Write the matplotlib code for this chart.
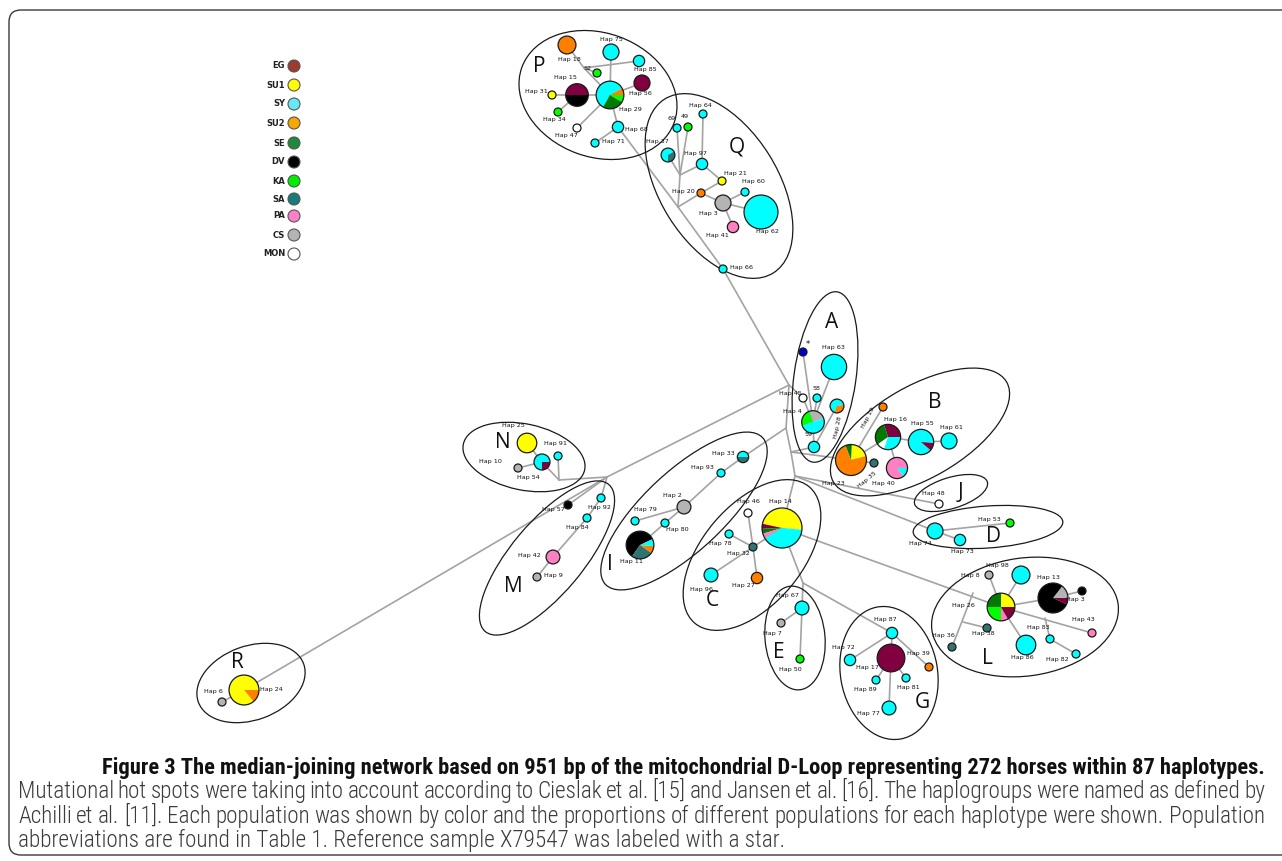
import numpy as np
import matplotlib
matplotlib.use("Agg")
import matplotlib.pyplot as plt
from matplotlib.patches import Wedge, Circle, Ellipse, FancyBboxPatch
from matplotlib import font_manager

# ---------------------------------------------------------------- data
POPS = ["EG", "SU1", "SY", "SU2", "SE", "DV", "KA", "SA", "PA", "CS", "MON"]
LEGEND_COLORS = ["#9e3a2e", "#ffff00", "#66e8f5", "#f5a800", "#1f8a3c", "#000000",
                 "#00ee00", "#1a7b7b", "#ff80c8", "#b4b4b4", "#ffffff"]
PIE_COLORS = {"EG": "#800040", "SU1": "#ffff00", "SY": "#00ffff", "SU2": "#ff8000",
              "SE": "#007a00", "DV": "#000000", "KA": "#00ff00", "SA": "#2f7373",
              "PA": "#ff80c0", "CS": "#b4b4b4", "MON": "#ffffff", "REF": "#0000cc"}

# horses per population in each haplotype (drawing order of slices)
HAPLOGROUP_P = {
    "Hap 18": [("SU2", 5)], "Hap 75": [("SY", 4)], "Hap 85": [("SY", 2)], "52": [("KA", 1)],
    "Hap 56": [("EG", 4)], "Hap 15": [("EG", 4), ("DV", 4)],
    "Hap 29": [("SU2", 1), ("SY", 7), ("SE", 3), ("KA", 1)],
    "Hap 31": [("SU1", 1)], "Hap 34": [("KA", 1)], "Hap 47": [("MON", 1)],
    "Hap 68": [("SY", 2)], "Hap 71": [("SY", 1)],
}
HAPLOGROUP_Q = {
    "Hap 64": [("SY", 1)], "69": [("SY", 1)], "49": [("KA", 1)],
    "Hap 37": [("SY", 2), ("SA", 1)], "Hap 97": [("SY", 2)], "Hap 21": [("SU1", 1)],
    "Hap 60": [("SY", 1)], "Hap 20": [("SU2", 1)], "Hap 3#Q": [("CS", 4)],
    "Hap 62": [("SY", 18)], "Hap 41": [("PA", 2)], "Hap 66": [("SY", 1)],
}
HAPLOGROUP_A = {
    "*": [("REF", 1)], "Hap 63": [("SY", 10)], "58": [("SY", 1)], "Hap 45": [("MON", 1)],
    "Hap 4": [("CS", 2), ("KA", 2), ("SY", 4)], "Hap 28": [("SY", 2), ("SU2", 1)],
    "59": [("SY", 2)],
}
HAPLOGROUP_B = {
    "Hap 19": [("SU2", 1)], "Hap 16": [("EG", 3), ("SE", 3), ("MON", 1), ("SY", 3)],
    "Hap 55": [("SY", 9), ("EG", 1)], "Hap 61": [("SY", 4)],
    "Hap 23": [("SU1", 3), ("SE", 1), ("SU2", 11)], "Hap 35": [("SA", 1)],
    "Hap 40": [("PA", 6), ("SY", 1)],
}
HAPLOGROUP_N = {"Hap 25": [("SU1", 6)], "Hap 91": [("SY", 1)],
                "Hap 54": [("SY", 3), ("EG", 1)], "Hap 10": [("CS", 1)]}
HAPLOGROUP_M = {"Hap 57": [("DV", 1)], "Hap 92": [("SY", 1)], "Hap 84": [("SY", 1)],
                "Hap 42": [("PA", 3)], "Hap 9": [("CS", 1)]}
HAPLOGROUP_I = {"Hap 33": [("SY", 1), ("SA", 1)], "Hap 93": [("SY", 1)], "Hap 2": [("CS", 3)],
                "Hap 79": [("SY", 1)], "Hap 80": [("SY", 1)],
                "Hap 11": [("DV", 7), ("SA", 3), ("SU2", 1), ("SY", 1)]}
HAPLOGROUP_C = {"Hap 46": [("MON", 1)],
                "Hap 14": [("SU1", 12), ("EG", 1), ("SE", 1), ("PA", 1), ("SY", 10)],
                "Hap 78": [("SY", 1)], "Hap 32": [("SA", 1)], "Hap 96": [("SY", 3)],
                "Hap 27": [("SU2", 2)]}
HAPLOGROUP_J = {"Hap 48": [("MON", 1)]}
HAPLOGROUP_D = {"Hap 74": [("SY", 4)], "Hap 73": [("SY", 2)], "Hap 53": [("KA", 1)]}
HAPLOGROUP_L = {"Hap 8": [("CS", 1)], "Hap 98": [("SY", 5)],
                "Hap 13": [("EG", 1), ("CS", 2), ("DV", 11)], "Hap 3#L": [("DV", 1)],
                "Hap 26": [("SU1", 3), ("SE", 3), ("KA", 3), ("PA", 1), ("EG", 2)],
                "Hap 38": [("SA", 1)], "Hap 36": [("SA", 1)], "Hap 83": [("SY", 1)],
                "Hap 86": [("SY", 6)], "Hap 82": [("SY", 1)], "Hap 43": [("PA", 1)]}
HAPLOGROUP_E = {"Hap 67": [("SY", 3)], "Hap 7": [("CS", 1)], "Hap 50": [("KA", 1)]}
HAPLOGROUP_G = {"Hap 87": [("SY", 2)], "Hap 72": [("SY", 2)], "Hap 17": [("EG", 12)],
                "Hap 39": [("SU2", 1)], "Hap 89": [("SY", 1)], "Hap 81": [("SY", 1)],
                "Hap 77": [("SY", 3)]}
HAPLOGROUP_R = {"Hap 24": [("SU2", 2), ("SU1", 12)], "Hap 6": [("CS", 1)]}

GROUPS = [HAPLOGROUP_P, HAPLOGROUP_Q, HAPLOGROUP_A, HAPLOGROUP_B, HAPLOGROUP_N,
          HAPLOGROUP_M, HAPLOGROUP_I, HAPLOGROUP_C, HAPLOGROUP_J, HAPLOGROUP_D,
          HAPLOGROUP_L, HAPLOGROUP_E, HAPLOGROUP_G, HAPLOGROUP_R]

TITLE = ("Figure 3 The median-joining network based on 951 bp of the mitochondrial "
         "D-Loop representing 272 horses within 87 haplotypes.")
BODY = ["Mutational hot spots were taking into account according to Cieslak et al. [15] and "
        "Jansen et al. [16]. The haplogroups were named as defined by",
        "Achilli et al. [11]. Each population was shown by color and the proportions of "
        "different populations for each haplotype were shown. Population",
        "abbreviations are found in Table 1. Reference sample X79547 was labeled with a star."]

# ---------------------------------------------------------------- layout (pixel space)
POS = {
    "Hap 18": (567, 45), "Hap 75": (611, 52), "Hap 85": (639, 61), "52": (597, 73),
    "Hap 56": (642, 83), "Hap 15": (577, 95), "Hap 29": (610, 95), "Hap 31": (552, 95),
    "Hap 34": (558, 112), "Hap 47": (577, 128), "Hap 68": (618, 127), "Hap 71": (595, 143),
    "Hap 64": (703, 114), "69": (677, 128), "49": (688, 127), "Hap 37": (668, 155),
    "Hap 97": (702, 164), "Hap 21": (722, 181), "Hap 60": (745, 192), "Hap 20": (701, 193),
    "Hap 3#Q": (723, 203), "Hap 62": (761, 212), "Hap 41": (733, 227), "Hap 66": (723, 269),
    "*": (803, 352), "Hap 63": (834, 367), "58": (817, 398), "Hap 45": (803, 398),
    "Hap 4": (813, 422), "Hap 28": (837, 406), "59": (814, 447),
    "Hap 19": (883, 407), "Hap 16": (888, 437), "Hap 55": (921, 442), "Hap 61": (949, 441),
    "Hap 23": (851, 460), "Hap 35": (874, 463), "Hap 40": (897, 468),
    "Hap 25": (527, 443), "Hap 91": (558, 456), "Hap 54": (542, 462), "Hap 10": (518, 468),
    "Hap 57": (568, 505), "Hap 92": (601, 498), "Hap 84": (587, 518), "Hap 42": (553, 557),
    "Hap 9": (537, 577),
    "Hap 33": (743, 457), "Hap 93": (721, 473), "Hap 2": (684, 507), "Hap 79": (635, 521),
    "Hap 80": (665, 523), "Hap 11": (640, 545),
    "Hap 46": (748, 513), "Hap 14": (782, 528), "Hap 78": (729, 534), "Hap 32": (753, 547),
    "Hap 96": (711, 575), "Hap 27": (757, 578),
    "Hap 48": (939, 504), "Hap 74": (935, 531), "Hap 73": (960, 540), "Hap 53": (1010, 523),
    "Hap 8": (989, 575), "Hap 98": (1021, 575), "Hap 13": (1053, 598), "Hap 3#L": (1082, 591),
    "Hap 26": (1001, 607), "Hap 38": (987, 628), "Hap 36": (952, 647), "Hap 83": (1050, 639),
    "Hap 86": (1026, 645), "Hap 82": (1076, 654), "Hap 43": (1092, 633),
    "Hap 67": (802, 608), "Hap 7": (781, 623), "Hap 50": (800, 659),
    "Hap 87": (892, 633), "Hap 72": (850, 660), "Hap 17": (891, 658), "Hap 39": (929, 667),
    "Hap 89": (876, 680), "Hap 81": (906, 678), "Hap 77": (889, 708),
    "Hap 24": (244, 690), "Hap 6": (222, 702),
}
JUNCTIONS = {
    "jP": (584, 68), "jQa": (678, 207), "jQb": (680, 175),
    "H1": (789, 385), "H2": (786, 428), "H3": (791, 452), "H4": (795, 476),
    "jL": (607, 477), "jN": (559, 480), "jE": (803, 583),
    "jL1": (973, 593), "jL2": (963, 622), "jL3": (1045, 618),
}
# slice start angle (degrees, counter-clockwise from east)
START = {"Hap 29": 0, "Hap 37": 30, "Hap 4": 20, "Hap 28": 10, "Hap 16": 0, "Hap 55": -5,
         "Hap 23": 15, "Hap 40": 0, "Hap 54": 0, "Hap 33": 0, "Hap 11": 25, "Hap 14": -5,
         "Hap 13": -25, "Hap 26": 0, "Hap 24": -51, "Hap 15": 0}

EDGES = [
    ("Hap 18", "jP"), ("jP", "Hap 29"), ("52", "jP"), ("Hap 85", "jP"), ("Hap 75", "Hap 29"),
    ("Hap 56", "Hap 29"), ("Hap 15", "Hap 29"), ("Hap 31", "Hap 15"), ("Hap 34", "Hap 15"),
    ("Hap 47", "Hap 29"), ("Hap 29", "Hap 68"), ("Hap 68", "Hap 71"),
    ("Hap 68", "jQa"), ("jQa", "Hap 66"), ("Hap 66", "H1"), ("jQa", "jQb"),
    ("69", "jQb"), ("49", "jQb"), ("Hap 37", "jQb"), ("jQb", "Hap 97"), ("Hap 64", "Hap 97"),
    ("Hap 97", "Hap 21"), ("jQa", "Hap 20"), ("Hap 20", "Hap 21"), ("Hap 20", "Hap 3#Q"),
    ("Hap 3#Q", "Hap 60"), ("Hap 3#Q", "Hap 62"), ("Hap 3#Q", "Hap 41"),
    ("jL", "H1"), ("jL", "Hap 24"), ("Hap 6", "Hap 24"), ("jN", "jL"), ("Hap 54", "jN"),
    ("Hap 91", "jN"), ("Hap 25", "Hap 54"), ("Hap 10", "Hap 54"), ("Hap 57", "jL"),
    ("Hap 92", "jL"), ("Hap 84", "Hap 92"), ("Hap 42", "Hap 84"), ("Hap 9", "Hap 42"),
    ("H1", "Hap 45"), ("Hap 45", "Hap 4"), ("*", "Hap 4"), ("58", "Hap 4"),
    ("Hap 63", "Hap 4"), ("Hap 4", "59"), ("Hap 28", "59"),
    ("H1", "H2"), ("H2", "H3"), ("H3", "H4"), ("H2", "Hap 33"), ("H3", "59"), ("H3", "Hap 23"),
    ("Hap 19", "Hap 23"), ("Hap 23", "Hap 16"), ("Hap 16", "Hap 55"), ("Hap 55", "Hap 61"),
    ("Hap 16", "Hap 40"), ("Hap 23", "Hap 35"),
    ("Hap 33", "Hap 93"), ("Hap 93", "Hap 2"), ("Hap 2", "Hap 79"), ("Hap 2", "Hap 80"),
    ("Hap 80", "Hap 11"),
    ("H4", "Hap 14"), ("Hap 14", "Hap 32"), ("Hap 32", "Hap 78"), ("Hap 46", "Hap 32"),
    ("Hap 32", "Hap 96"), ("Hap 32", "Hap 27"),
    ("H4", "Hap 48"), ("H4", "Hap 74"), ("Hap 74", "Hap 53"), ("Hap 74", "Hap 73"),
    ("Hap 14", "Hap 26"), ("Hap 26", "Hap 8"), ("Hap 26", "Hap 98"), ("Hap 26", "Hap 13"),
    ("Hap 13", "Hap 3#L"), ("Hap 26", "Hap 86"), ("Hap 26", "Hap 43"), ("jL3", "Hap 83"),
    ("Hap 83", "Hap 82"), ("jL1", "Hap 36"), ("jL2", "Hap 38"),
    ("Hap 14", "jE"), ("jE", "Hap 67"), ("Hap 67", "Hap 7"), ("Hap 67", "Hap 50"),
    ("jE", "Hap 87"), ("Hap 87", "Hap 72"), ("Hap 87", "Hap 39"), ("Hap 87", "Hap 17"),
    ("Hap 17", "Hap 77"), ("Hap 17", "Hap 89"), ("Hap 17", "Hap 81"),
]

# label centre positions (pixels); rotation where the label follows a link
LABELS = {
    "Hap 75": (611, 39), "Hap 18": (569, 60), "52": (587, 69), "Hap 85": (645, 69),
    "Hap 15": (565, 77), "Hap 56": (640, 94), "Hap 31": (536, 91), "Hap 29": (630, 110),
    "Hap 34": (554, 120), "Hap 47": (566, 136), "Hap 68": (636, 129), "Hap 71": (613, 142),
    "Hap 64": (700, 106), "69": (672, 118), "49": (685, 117), "Hap 37": (657, 141),
    "Hap 97": (695, 153), "Hap 21": (735, 173), "Hap 60": (753, 182), "Hap 20": (683, 192),
    "Hap 3#Q": (708, 213), "Hap 62": (767, 232), "Hap 41": (717, 235), "Hap 66": (742, 267),
    "*": (808, 344), "Hap 63": (833, 347), "58": (816, 388), "Hap 45": (790, 393),
    "Hap 4": (792, 412), "Hap 28": (838, 427), "59": (809, 435),
    "Hap 19": (868, 418), "Hap 16": (895, 419), "Hap 55": (922, 424), "Hap 61": (952, 427),
    "Hap 23": (833, 483), "Hap 35": (867, 480), "Hap 40": (883, 484),
    "Hap 25": (513, 425), "Hap 91": (555, 443), "Hap 10": (490, 462), "Hap 54": (528, 478),
    "Hap 57": (553, 509), "Hap 92": (599, 507), "Hap 84": (577, 527), "Hap 42": (529, 555),
    "Hap 9": (553, 576),
    "Hap 33": (723, 453), "Hap 93": (702, 467), "Hap 2": (672, 496), "Hap 79": (645, 510),
    "Hap 80": (677, 530), "Hap 11": (632, 562),
    "Hap 46": (748, 502), "Hap 14": (780, 502), "Hap 78": (720, 543), "Hap 32": (738, 553),
    "Hap 96": (702, 589), "Hap 27": (743, 586),
    "Hap 48": (933, 494), "Hap 53": (989, 519), "Hap 74": (920, 544), "Hap 73": (962, 551),
    "Hap 8": (970, 575), "Hap 98": (997, 566), "Hap 13": (1048, 577), "Hap 3#L": (1075, 600),
    "Hap 26": (963, 606), "Hap 38": (983, 633), "Hap 36": (943, 635), "Hap 83": (1038, 628),
    "Hap 43": (1083, 619), "Hap 86": (1022, 658), "Hap 82": (1057, 659),
    "Hap 67": (787, 595), "Hap 7": (772, 633), "Hap 50": (790, 669),
    "Hap 87": (885, 619), "Hap 72": (843, 648), "Hap 17": (867, 667), "Hap 39": (918, 653),
    "Hap 89": (865, 689), "Hap 81": (908, 687), "Hap 77": (868, 713),
    "Hap 6": (213, 692), "Hap 24": (271, 690),
}
LABEL_ROT = {"Hap 28": 78, "Hap 19": 62, "Hap 35": 40}

# haplogroup outlines: centre, major, minor, screen angle of major axis
OUTLINES = {
    "P": ((598, 95), 162, 124, -20), "Q": ((719, 186), 205, 118, -58),
    "A": ((825, 377), 172, 62, 82), "B": ((920, 432), 200, 92, 30),
    "N": ((524, 457), 124, 66, -12), "M": ((547, 558), 192, 72, 50),
    "I": ((684, 511), 215, 80, 43), "C": ((752, 555), 178, 100, 50),
    "J": ((951, 493), 76, 31, 17), "D": ((988, 527), 150, 42, 4),
    "L": ((1025, 617), 188, 118, 8), "E": ((795, 638), 104, 60, 95),
    "G": ((889, 673), 134, 97, 100), "R": ((251, 683), 112, 74, 20),
}
GROUP_LETTER = {"P": (539, 66), "Q": (737, 147), "A": (832, 322), "B": (935, 403),
                "N": (503, 443), "M": (513, 587), "I": (610, 565), "C": (712, 601),
                "J": (960, 492), "D": (993, 537), "L": (987, 658), "E": (779, 653),
                "G": (922, 703), "R": (237, 662)}


def pick_font(cands, **kw):
    for f in cands:
        try:
            font_manager.findfont(font_manager.FontProperties(family=f, **kw),
                                  fallback_to_default=False)
            return f
        except Exception:
            continue
    return "DejaVu Sans"


NARROW = pick_font(["Liberation Sans Narrow", "Roboto Condensed", "Open Sans Condensed"])
LETTER_FONT = pick_font(["Open Sans", "Noto Sans"])

W, H = 1282, 861
fig = plt.figure(figsize=(W / 100, H / 100), dpi=100)
ax = fig.add_axes([0, 0, 1, 1])
ax.set_xlim(0, W)
ax.set_ylim(H, 0)
ax.axis("off")

# outer frame
ax.add_patch(FancyBboxPatch((9, 10), 1320, 845, boxstyle="round,pad=0,rounding_size=12",
                            fc="none", ec="#3a3a3a", lw=1.0, zorder=0))

allpos = dict(POS)
allpos.update(JUNCTIONS)

for a, b in EDGES:
    (x1, y1), (x2, y2) = allpos[a], allpos[b]
    ax.plot([x1, x2], [y1, y2], color="#a3a3a3", lw=1.2, zorder=1, solid_capstyle="round")

for g, (c, major, minor, ang) in OUTLINES.items():
    ax.add_patch(Ellipse(c, major, minor, angle=-ang, fc="none", ec="#1a1a1a", lw=0.9, zorder=2))
    ax.text(*GROUP_LETTER[g], g, fontsize=15, family=LETTER_FONT, ha="center", va="center",
            color="#111111", zorder=5)


def radius(n):
    return 4.0 * np.sqrt(n)


for grp in GROUPS:
    for hap, comp in grp.items():
        x, y = POS[hap]
        n = sum(c for _, c in comp)
        r = radius(n)
        if len(comp) == 1:
            ax.add_patch(Circle((x, y), r, fc=PIE_COLORS[comp[0][0]], ec="#1a1a1a",
                                lw=0.9, zorder=3))
        else:
            a0 = START.get(hap, 0)
            for pop, cnt in comp:
                a1 = a0 + 360.0 * cnt / n
                # y axis points down: screen counter-clockwise = negative data angle
                ax.add_patch(Wedge((x, y), r, -a1, -a0, fc=PIE_COLORS[pop], ec="none",
                                   zorder=3))
                a0 = a1
            ax.add_patch(Circle((x, y), r, fc="none", ec="#1a1a1a", lw=0.9, zorder=3.5))
        lx, ly = LABELS[hap]
        txt = hap.split("#")[0]
        ax.text(lx, ly, txt, fontsize=4.6 if txt != "*" else 6, ha="center", va="center",
                rotation=LABEL_ROT.get(hap, 0), color="#111111", zorder=4)

# legend
LEG_Y = [66, 85, 104, 123, 143, 162, 181, 199, 216, 235, 254]
for pop, col, y in zip(POPS, LEGEND_COLORS, LEG_Y):
    ax.add_patch(Circle((294, y), 6, fc=col, ec="#555555", lw=0.8, zorder=3))
    ax.text(285, y, pop, fontsize=6, fontweight="bold", ha="right", va="center",
            color="#222222")

# caption
renderer = fig.canvas.get_renderer()


def justified(line, y, x0, x1, **kw):
    words = line.split(" ")
    ts = [ax.text(0, y, w, ha="left", va="baseline", **kw) for w in words]
    widths = [t.get_window_extent(renderer).width for t in ts]
    gap = (x1 - x0 - sum(widths)) / (len(words) - 1)
    x = x0
    for t, w in zip(ts, widths):
        t.set_x(x)
        x += w + gap


CAP_KW = dict(family=NARROW, fontsize=16.7, color="#3c3c3c", fontweight="light")
ax.text(1265, 774, TITLE, family=NARROW, fontsize=16.2, fontweight="bold", ha="right",
        va="baseline", color="#111111")
justified(BODY[0], 798, 18, 1265, **CAP_KW)
justified(BODY[1], 823, 18, 1265, **CAP_KW)
ax.text(18, 847, BODY[2], ha="left", va="baseline", **CAP_KW)

fig.savefig("out.png", dpi=100)
